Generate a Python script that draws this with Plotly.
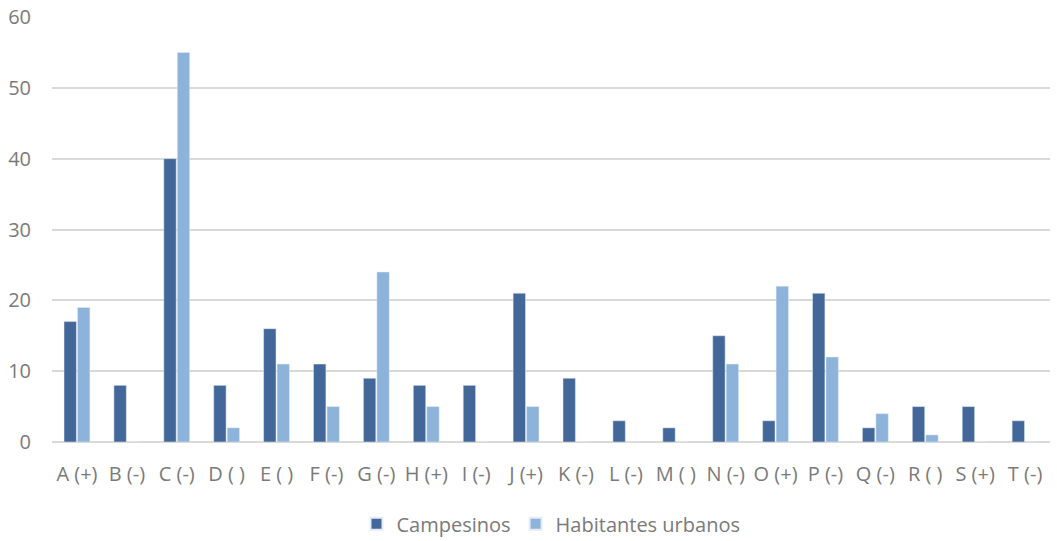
import plotly.graph_objects as go

categories = ["A (+)", "B (-)", "C (-)", "D ( )", "E ( )", "F (-)", "G (-)", "H (+)", "I (-)", "J (+)",
              "K (-)", "L (-)", "M ( )", "N (-)", "O (+)", "P (-)", "Q (-)", "R ( )", "S (+)", "T (-)"]
campesinos = [17, 8, 40, 8, 16, 11, 9, 8, 8, 21, 9, 3, 2, 15, 3, 21, 2, 5, 5, 3]
urbanos = [19, 0, 55, 2, 11, 5, 24, 5, 0, 5, 0, 0, 0, 11, 22, 12, 4, 1, 0, 0]

text_color = "#7A7A7A"
font_family = "Open Sans, Liberation Sans, sans-serif"

fig = go.Figure()
fig.add_trace(go.Bar(x=categories, y=campesinos, name="Campesinos", marker_color="#44679A"))
fig.add_trace(go.Bar(x=categories, y=urbanos, name="Habitantes urbanos", marker_color="#8DB3DA"))

fig.update_layout(
    width=1057, height=541,
    margin=dict(l=52, r=7, t=17, b=99, autoexpand=False),
    paper_bgcolor="white", plot_bgcolor="white",
    barmode="group", bargap=0.46, bargroupgap=0.08,
    font=dict(family=font_family, size=20, color=text_color),
    legend=dict(orientation="h", x=0.5, xanchor="center", yref="container", y=0.032,
                yanchor="middle", font=dict(size=20, color=text_color), itemsizing="constant"),
    xaxis=dict(showgrid=False, showline=False, ticks="", tickfont=dict(size=20, color=text_color),
               tickangle=0, ticklabelstandoff=18, automargin=False),
    yaxis=dict(range=[0, 60], dtick=10, showgrid=True, gridcolor="#D9D9D9", gridwidth=1.5,
               zeroline=True, zerolinecolor="#D9D9D9", zerolinewidth=1.5,
               showline=False, ticks="", tickfont=dict(size=20, color=text_color),
               ticklabelstandoff=20, automargin=False, layer="above traces"),
)

fig.write_html("out.html")
